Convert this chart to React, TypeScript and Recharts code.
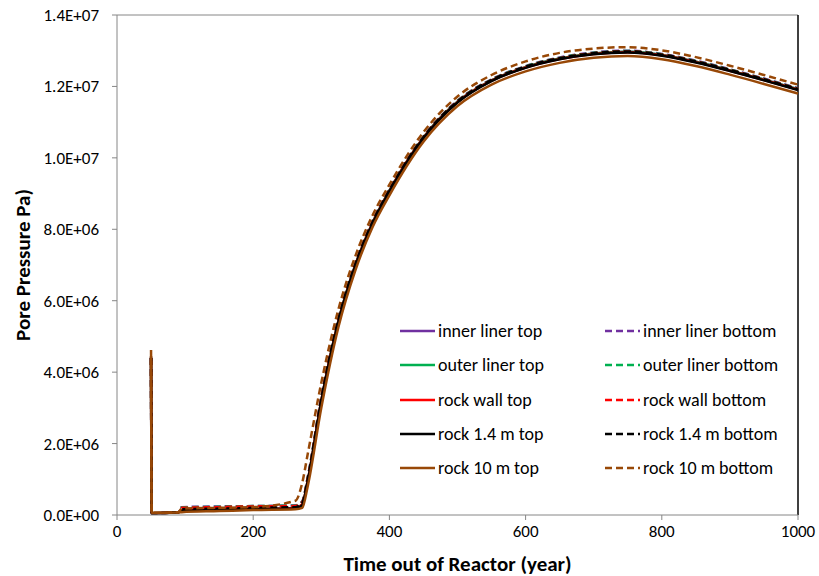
import { LineChart, Line, XAxis, YAxis, ReferenceLine, Label } from "recharts";

// time out of reactor (year)
const years = [50, 51, 90, 95, 150, 200, 262, 272, 280, 300, 325, 350, 375, 400, 450, 500, 550, 600, 650, 700, 750, 800, 850, 900, 950, 1000];

// pore pressure, MPa (1E+06 Pa)
const innerTop = [4.4, 0.05, 0.08, 0.13, 0.15, 0.17, 0.19, 0.3, 0.95, 3.2, 5.42, 7.0, 8.17, 9.08, 10.57, 11.57, 12.17, 12.54, 12.78, 12.92, 12.97, 12.88, 12.69, 12.45, 12.19, 11.92];
const innerBottom = [4.4, 0.05, 0.08, 0.22, 0.24, 0.25, 0.27, 0.38, 1.05, 3.3, 5.5, 7.05, 8.22, 9.12, 10.6, 11.6, 12.2, 12.57, 12.81, 12.95, 13.0, 12.91, 12.72, 12.48, 12.22, 11.95];
const outerTop = [4.4, 0.05, 0.08, 0.13, 0.15, 0.17, 0.19, 0.3, 0.95, 3.2, 5.42, 7.0, 8.17, 9.08, 10.57, 11.57, 12.17, 12.54, 12.78, 12.92, 12.97, 12.88, 12.69, 12.45, 12.19, 11.92];
const outerBottom = [4.4, 0.05, 0.08, 0.21, 0.23, 0.25, 0.26, 0.37, 1.04, 3.29, 5.49, 7.04, 8.21, 9.11, 10.59, 11.59, 12.19, 12.56, 12.8, 12.94, 12.99, 12.9, 12.71, 12.47, 12.21, 11.94];
const wallTop = [4.4, 0.05, 0.08, 0.13, 0.15, 0.17, 0.19, 0.3, 0.95, 3.2, 5.41, 6.99, 8.16, 9.07, 10.56, 11.56, 12.16, 12.53, 12.77, 12.91, 12.96, 12.87, 12.68, 12.44, 12.18, 11.91];
const wallBottom = [4.4, 0.05, 0.08, 0.2, 0.22, 0.24, 0.25, 0.36, 1.02, 3.27, 5.47, 7.03, 8.2, 9.1, 10.58, 11.58, 12.18, 12.55, 12.79, 12.93, 12.98, 12.89, 12.7, 12.46, 12.2, 11.93];
const rock14Top = [4.4, 0.05, 0.08, 0.12, 0.14, 0.16, 0.18, 0.28, 0.93, 3.18, 5.4, 6.98, 8.15, 9.06, 10.55, 11.55, 12.15, 12.52, 12.76, 12.9, 12.95, 12.86, 12.67, 12.43, 12.17, 11.9];
const rock14Bottom = [4.4, 0.05, 0.08, 0.16, 0.18, 0.2, 0.22, 0.34, 1.0, 3.25, 5.46, 7.02, 8.19, 9.09, 10.58, 11.58, 12.18, 12.55, 12.79, 12.93, 12.98, 12.89, 12.7, 12.46, 12.2, 11.93];
const rock10Top = [4.45, 0.06, 0.07, 0.08, 0.11, 0.14, 0.16, 0.2, 0.8, 3.0, 5.25, 6.85, 8.05, 8.95, 10.45, 11.45, 12.05, 12.42, 12.66, 12.8, 12.85, 12.76, 12.57, 12.33, 12.07, 11.8];
const rock10Bottom = [4.62, 0.06, 0.08, 0.18, 0.2, 0.22, 0.4, 0.9, 1.7, 3.7, 5.75, 7.25, 8.38, 9.25, 10.72, 11.72, 12.32, 12.7, 12.94, 13.06, 13.1, 13.01, 12.82, 12.58, 12.32, 12.05];

const seriesNames = [
  "inner liner top", "inner liner bottom",
  "outer liner top", "outer liner bottom",
  "rock wall top", "rock wall bottom",
  "rock 1.4 m top", "rock 1.4 m bottom",
  "rock 10 m top", "rock 10 m bottom",
];
const seriesValues = [innerTop, innerBottom, outerTop, outerBottom, wallTop, wallBottom, rock14Top, rock14Bottom, rock10Top, rock10Bottom];
const seriesColors = ["#7030A0", "#7030A0", "#00B050", "#00B050", "#FF0000", "#FF0000", "#000000", "#000000", "#984807", "#984807"];

const xTicks = [0, 200, 400, 600, 800, 1000];
const yTicks = [0, 2, 4, 6, 8, 10, 12, 14];

const data = years.map((t, i) => {
  const row: Record<string, number> = { t };
  seriesValues.forEach((vals, k) => {
    row["s" + k] = vals[i];
  });
  return row;
});

const FONT = "Carlito, Lato, 'Liberation Sans', sans-serif";

// Excel-style scientific label, e.g. 1.2E+07
const sci = (v: number) => {
  const [m, e] = (v * 1e6).toExponential(1).split("e");
  const n = Math.abs(parseInt(e, 10));
  return m + "E" + (e.startsWith("-") ? "-" : "+") + String(n).padStart(2, "0");
};

function LegendBox() {
  return (
    <div style={{ position: "absolute", left: 400, top: 314, display: "grid", gridTemplateColumns: "205px 200px", fontFamily: FONT, fontSize: 18 }}>
      {seriesNames.map((name, k) => (
        <div key={name} style={{ display: "flex", alignItems: "center", height: 34.3 }}>
          <svg width={35} height={6} style={{ marginRight: 3, flexShrink: 0 }}>
            <line x1={0} y1={3} x2={35} y2={3} stroke={seriesColors[k]} strokeWidth={2.5}
              strokeDasharray={k % 2 ? "7 4" : undefined} />
          </svg>
          <span style={{ color: "#000", whiteSpace: "nowrap" }}>{name}</span>
        </div>
      ))}
    </div>
  );
}

export default function App() {
  return (
    <div style={{ position: "absolute", left: 0, top: 0, width: 819, height: 576, background: "#fff" }}>
      <LineChart width={819} height={576} data={data} margin={{ top: 15, right: 21, left: 0, bottom: 0 }}>
        <XAxis
          dataKey="t"
          type="number"
          domain={[0, 1000]}
          ticks={xTicks}
          height={61}
          stroke="#868686"
          tickSize={5}
          tickMargin={5}
          tick={{ fill: "#000", fontSize: 17, fontFamily: FONT }}
        >
          <Label value="Time out of Reactor (year)" position="insideBottom" offset={5}
            style={{ fontWeight: "bold", fontSize: 21, fill: "#000", fontFamily: FONT }} />
        </XAxis>
        <YAxis
          type="number"
          domain={[0, 14]}
          ticks={yTicks}
          width={117}
          stroke="#868686"
          tickSize={5}
          tickMargin={13}
          tickFormatter={sci}
          tick={{ fill: "#000", fontSize: 17, fontFamily: FONT }}
        >
          <Label
            content={({ viewBox }: any) => {
              const cx = (viewBox?.x ?? 0) + 23;
              const cy = (viewBox?.y ?? 0) + (viewBox?.height ?? 0) / 2;
              return (
                <text x={cx} y={cy} transform={`rotate(-90, ${cx}, ${cy})`} textAnchor="middle"
                  dominantBaseline="central" style={{ fontWeight: "bold", fontSize: 21, fill: "#000", fontFamily: FONT }}>
                  Pore Pressure Pa)
                </text>
              );
            }}
          />
        </YAxis>
        <ReferenceLine y={14} stroke="#868686" strokeWidth={1} />
        <ReferenceLine x={1000} stroke="#000" strokeWidth={1.5} />
        {seriesValues.map((_, k) => (
          <Line
            key={k}
            dataKey={"s" + k}
            name={seriesNames[k]}
            type="monotone"
            stroke={seriesColors[k]}
            strokeWidth={2.5}
            strokeDasharray={k % 2 ? "7 4" : undefined}
            dot={false}
            isAnimationActive={false}
          />
        ))}
      </LineChart>
      <LegendBox />
    </div>
  );
}
